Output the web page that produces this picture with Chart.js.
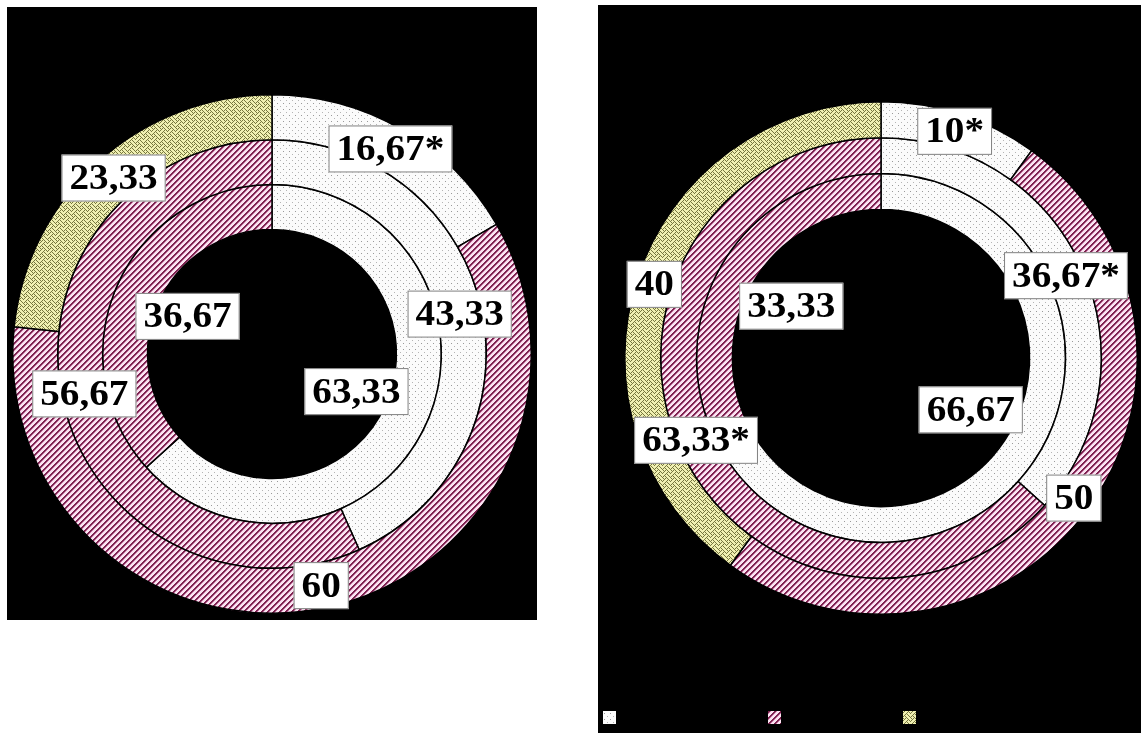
<!DOCTYPE html>
<html>
<head>
<meta charset="utf-8">
<script src="https://cdn.jsdelivr.net/npm/chart.js@4.4.1/dist/chart.umd.min.js"></script>
<style>
  body { margin: 0; background: #fff; width: 1141px; height: 733px; overflow: hidden; position: relative; }
  .panel { position: absolute; background: #000; }
  .panel canvas { display: block; }
  #leftPanel { left: 7px; top: 7px; width: 530px; height: 613px; }
  #rightPanel { left: 598px; top: 5px; width: 543px; height: 728px; }
</style>
</head>
<body>
<div class="panel" id="leftPanel"><canvas id="leftChart" width="530" height="613"></canvas></div>
<div class="panel" id="rightPanel"><canvas id="rightChart" width="543" height="728"></canvas></div>
<script>
// values per ring, outer ring first (Chart.js draws dataset 0 outermost)
const leftOuter = [16.67, 60, 23.33];
const leftMiddle = [43.33, 56.67];
const leftInner = [63.33, 36.67];
const leftOuterMarks = [true, false, false];
const leftMiddleMarks = [false, false];
const leftInnerMarks = [false, false];

const rightOuter = [10, 50, 40];
const rightMiddle = [36.67, 63.33];
const rightInner = [66.67, 33.33];
const rightOuterMarks = [true, false, false];
const rightMiddleMarks = [true, true];
const rightInnerMarks = [false, false];

// format like 16,67 / 60
function fmt(v) {
    return Number.isInteger(v) ? String(v) : v.toFixed(2).replace('.', ',');
}

function makePattern(ctx, w, h, draw) {
    const c = document.createElement('canvas');
    c.width = w;
    c.height = h;
    draw(c.getContext('2d'), w, h);
    return ctx.createPattern(c, 'repeat');
}

function makePatterns(ctx) {
    const dots = makePattern(ctx, 6, 6, (g) => {
        g.fillStyle = '#fbfbfb';
        g.fillRect(0, 0, 6, 6);
        g.fillStyle = '#9a9a9a';
        g.fillRect(0, 0, 1, 1);
        g.fillStyle = '#b5b5b5';
        g.fillRect(3, 3, 1, 1);
    });
    const hatch = makePattern(ctx, 6, 6, (g) => {
        for (let x = 0; x < 6; x++) {
            for (let y = 0; y < 6; y++) {
                const d = (x + y) % 6;
                g.fillStyle = d < 2 ? '#7d2350' : (d === 2 ? '#c87aa6' : '#fbe4f2');
                g.fillRect(x, y, 1, 1);
            }
        }
    });
    const weaveRows = [0x88, 0x54, 0x22, 0x45, 0x88, 0x14, 0x22, 0x51];
    const weave = makePattern(ctx, 8, 8, (g) => {
        g.fillStyle = '#f0f0b2';
        g.fillRect(0, 0, 8, 8);
        g.fillStyle = '#76763e';
        weaveRows.forEach((row, y) => {
            for (let x = 0; x < 8; x++) {
                if (row & (0x80 >> x)) g.fillRect(x, y, 1, 1);
            }
        });
    });
    return [dots, hatch, weave];
}

// white boxes with the values (text a little stretched, like the original)
const valueLabels = {
    id: 'valueLabels',
    afterDatasetsDraw(chart, args, opts) {
        const ctx = chart.ctx;
        const last = chart.data.datasets.length - 1;
        const sx = 1.12;
        ctx.save();
        ctx.font = 'bold 35px "Liberation Serif", "Times New Roman", serif';
        ctx.textAlign = 'center';
        ctx.textBaseline = 'middle';
        chart.data.datasets.forEach((ds, di) => {
            const meta = chart.getDatasetMeta(di);
            meta.data.forEach((arc, i) => {
                const p = arc.getProps(['x', 'y', 'startAngle', 'endAngle', 'innerRadius', 'outerRadius']);
                const a = (p.startAngle + p.endAngle) / 2;
                const r = di === last ? p.innerRadius - opts.innerShift : (p.innerRadius + p.outerRadius) / 2;
                const x = p.x + Math.cos(a) * r;
                const y = p.y + Math.sin(a) * r;
                const text = fmt(ds.data[i]) + (ds.marks[i] ? '*' : '');
                const w = ctx.measureText(text).width * sx + 16;
                const h = 47;
                ctx.fillStyle = '#fff';
                ctx.fillRect(x - w / 2, y - h / 2, w, h);
                ctx.strokeStyle = '#808080';
                ctx.lineWidth = 1;
                ctx.strokeRect(x - w / 2 + 0.5, y - h / 2 + 0.5, w - 1, h - 1);
                ctx.save();
                ctx.translate(x, y + 2);
                ctx.scale(sx, 1);
                ctx.fillStyle = '#000';
                ctx.fillText(text, 0, 0);
                ctx.restore();
            });
        });
        ctx.restore();
    }
};

// small pattern squares at the bottom of the right panel
const swatchLegend = {
    id: 'swatchLegend',
    afterDraw(chart, args, opts) {
        if (!opts.show) return;
        const ctx = chart.ctx;
        const fills = chart.data.datasets[0].backgroundColor;
        opts.xs.forEach((x, i) => {
            ctx.fillStyle = fills[i];
            ctx.fillRect(x, opts.y, opts.size, opts.size);
        });
    }
};

function buildChart(id, rings, marks, cutout, padding, innerShift, legendOpts) {
    const ctx = document.getElementById(id).getContext('2d');
    const fills = makePatterns(ctx);
    return new Chart(ctx, {
        type: 'doughnut',
        data: {
            datasets: rings.map((values, k) => ({
                data: values,
                marks: marks[k],
                backgroundColor: fills.slice(0, values.length),
                borderColor: '#000',
                borderWidth: 1.5
            }))
        },
        options: {
            responsive: false,
            animation: false,
            cutout: cutout,
            layout: { padding: padding },
            plugins: {
                legend: { display: false },
                tooltip: { enabled: false },
                valueLabels: { innerShift: innerShift },
                swatchLegend: legendOpts
            }
        },
        plugins: [valueLabels, swatchLegend]
    });
}

buildChart('leftChart',
    [leftOuter, leftMiddle, leftInner],
    [leftOuterMarks, leftMiddleMarks, leftInnerMarks],
    '48%', { left: 5, right: 5, top: 87, bottom: 6 }, 32,
    { show: false });

buildChart('rightChart',
    [rightOuter, rightMiddle, rightInner],
    [rightOuterMarks, rightMiddleMarks, rightInnerMarks],
    '58%', { left: 26, right: 3, top: 96, bottom: 118 }, 45,
    { show: true, xs: [5, 170, 305], y: 706, size: 13 });
</script>
</body>
</html>
